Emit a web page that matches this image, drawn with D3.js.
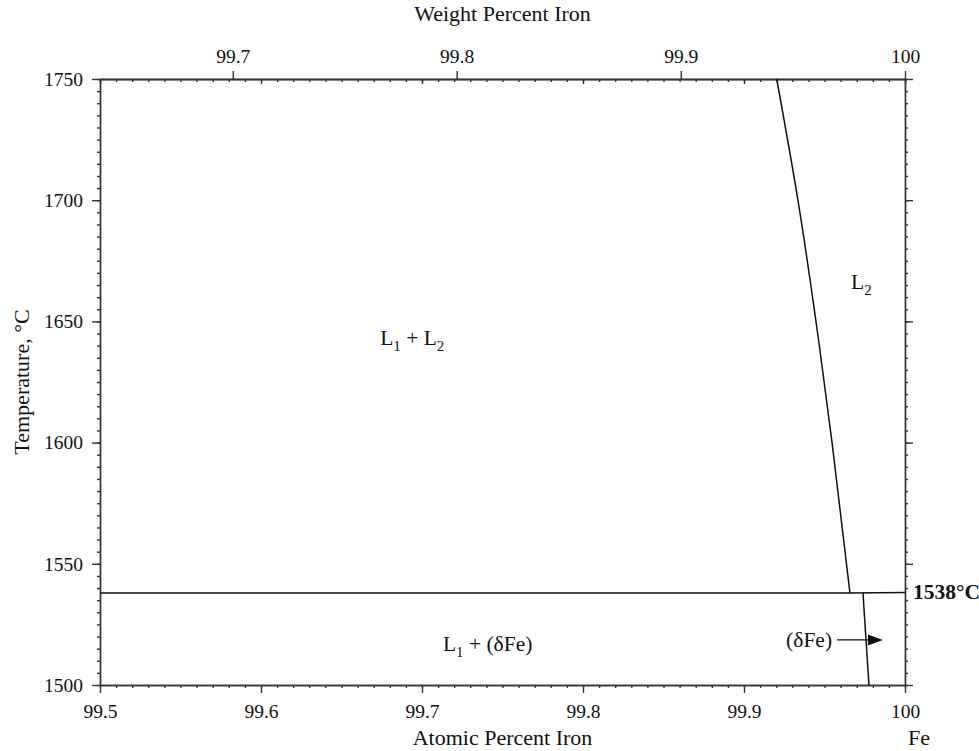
<!DOCTYPE html>
<html>
<head>
<meta charset="utf-8">
<script src="https://cdn.jsdelivr.net/npm/d3@7"></script>
<style>
  body { margin: 0; background: #fff; }
  svg { font-family: "Liberation Serif", "Times New Roman", serif; }
  .axis path, .axis line { stroke: #333; stroke-width: 1.4; }
  .axis text { font-size: 19.5px; fill: #111; font-family: "Liberation Serif", serif; }
  .phase { fill: none; stroke: #111; stroke-width: 1.5; }
  .label { font-size: 21.5px; fill: #111; }
  .title { font-size: 22px; fill: #111; }
</style>
</head>
<body>
<svg width="979" height="751"></svg>
<script>
// axis ticks
const tempTicks = [1500, 1550, 1600, 1650, 1700, 1750];
const atomicTicks = [99.5, 99.6, 99.7, 99.8, 99.9, 100];
const weightTicks = [99.7, 99.8, 99.9, 100];

// phase boundaries, [atomic % Fe, temperature °C]
const l2Boundary = [[99.9203, 1750], [99.9335, 1700], [99.9447, 1650], [99.9547, 1600], [99.9658, 1538]];
const monotectic = [[99.5, 1538], [99.9658, 1538]];
const feLiquidus = [[99.9658, 1538], [100, 1538.2]];
const deltaSolvus = [[99.9739, 1538], [99.9776, 1500]];

// region labels
const regionLabels = [
  {base: 'L', sub: '1', rest: ' + ', base2: 'L', sub2: '2', x: 99.674, t: 1640.3},
  {base: 'L', sub: '2', rest: '', base2: '', sub2: '', x: 99.9665, t: 1663.4},
  {base: 'L', sub: '1', rest: ' + (δFe)', base2: '', sub2: '', x: 99.713, t: 1514}
];
const arrowLabel = {text: '(δFe)', x: 99.9547, t: 1518.6, from: 99.9578, to: 99.9863};

// molar masses for the wt% <-> at% conversion (Ca–Fe)
const mFe = 55.845, mCa = 40.078;
const wtToAt = w => 100 * (w / mFe) / (w / mFe + (100 - w) / mCa);

const svg = d3.select('svg');
const x = d3.scaleLinear().domain([99.5, 100]).range([100, 905]);
const y = d3.scaleLinear().domain([1500, 1750]).range([685, 79]);

const minorX = d3.range(0, 51).map(i => 99.5 + i * 0.01);
const minorY = d3.range(0, 51).map(i => 1500 + i * 5);
const fmt = d => d === 100 ? '100' : d3.format('.1f')(d);

// bottom axis
svg.append('g').attr('class', 'axis')
  .attr('transform', `translate(0,${y(1500)})`)
  .call(d3.axisBottom(x).tickValues(minorX).tickSize(3).tickSizeOuter(0).tickFormat(''));
svg.append('g').attr('class', 'axis')
  .attr('transform', `translate(0,${y(1500)})`)
  .call(d3.axisBottom(x).tickValues(atomicTicks).tickSize(8).tickSizeOuter(0).tickPadding(11).tickFormat(fmt));

// top axis: atomic ticks inward, weight ticks outward
svg.append('g').attr('class', 'axis')
  .attr('transform', `translate(0,${y(1750)})`)
  .call(d3.axisBottom(x).tickValues(minorX).tickSize(3).tickSizeOuter(0).tickFormat(''));
svg.append('g').attr('class', 'axis')
  .attr('transform', `translate(0,${y(1750)})`)
  .call(d3.axisBottom(x).tickValues(atomicTicks).tickSize(5).tickSizeOuter(0).tickFormat(''));
svg.append('g').attr('class', 'axis')
  .attr('transform', `translate(0,${y(1750)})`)
  .call(d3.axisTop(x).tickValues(weightTicks.map(wtToAt)).tickSize(8).tickSizeOuter(0).tickPadding(8)
    .tickFormat((d, i) => fmt(weightTicks[i])));

// left axis
svg.append('g').attr('class', 'axis')
  .attr('transform', `translate(${x(99.5)},0)`)
  .call(d3.axisLeft(y).tickValues(minorY).tickSize(3).tickSizeOuter(0).tickFormat(''));
svg.append('g').attr('class', 'axis')
  .attr('transform', `translate(${x(99.5)},0)`)
  .call(d3.axisLeft(y).tickValues(tempTicks).tickSize(8).tickSizeOuter(0).tickPadding(9).tickFormat(d3.format('d')));

// right axis
svg.append('g').attr('class', 'axis')
  .attr('transform', `translate(${x(100)},0)`)
  .call(d3.axisRight(y).tickValues(minorY).tickSize(3).tickSizeOuter(0).tickFormat(''));
svg.append('g').attr('class', 'axis')
  .attr('transform', `translate(${x(100)},0)`)
  .call(d3.axisRight(y).tickValues(tempTicks).tickSize(8).tickSizeOuter(0).tickFormat(''));

svg.selectAll('.axis .domain').attr('stroke-width', 1.6);

// phase boundaries
const line = d3.line().x(d => x(d[0])).y(d => y(d[1]));
svg.append('path').attr('class', 'phase').attr('d', line.curve(d3.curveNatural)(l2Boundary));
line.curve(d3.curveLinear);
[monotectic, feLiquidus, deltaSolvus].forEach(seg => {
  svg.append('path').attr('class', 'phase').attr('d', line(seg));
});

// region labels with subscripts
regionLabels.forEach(l => {
  const t = svg.append('text').attr('class', 'label').attr('x', x(l.x)).attr('y', y(l.t));
  t.append('tspan').text(l.base);
  t.append('tspan').attr('dy', 6).attr('font-size', 15).text(l.sub);
  t.append('tspan').attr('dy', -6).text(l.rest);
  if (l.base2) {
    t.append('tspan').text(l.base2);
    t.append('tspan').attr('dy', 6).attr('font-size', 15).text(l.sub2);
  }
});

// (δFe) arrow
svg.append('text').attr('class', 'label')
  .attr('x', x(arrowLabel.x)).attr('y', y(arrowLabel.t) + 7)
  .attr('text-anchor', 'end').text(arrowLabel.text);
const ay = y(arrowLabel.t);
svg.append('line')
  .attr('x1', x(arrowLabel.from)).attr('x2', x(arrowLabel.to) - 12)
  .attr('y1', ay).attr('y2', ay)
  .attr('stroke', '#111').attr('stroke-width', 1.3);
svg.append('path')
  .attr('d', `M${x(arrowLabel.to)},${ay} L${x(arrowLabel.to) - 15},${ay - 5.5} L${x(arrowLabel.to) - 15},${ay + 5.5} Z`)
  .attr('fill', '#111');

// 1538 °C marker
svg.append('text').attr('class', 'label')
  .attr('x', x(100) + 8).attr('y', y(1538) + 6.5)
  .attr('font-size', 18.5).attr('font-weight', 'bold').text('1538°C');

// axis titles
svg.append('text').attr('class', 'title')
  .attr('x', (x(99.5) + x(100)) / 2).attr('y', 21)
  .attr('text-anchor', 'middle').text('Weight Percent Iron');
svg.append('text').attr('class', 'title')
  .attr('x', (x(99.5) + x(100)) / 2).attr('y', 745)
  .attr('text-anchor', 'middle').text('Atomic Percent Iron');
svg.append('text').attr('class', 'title')
  .attr('x', 919).attr('y', 745)
  .attr('font-size', 21).attr('text-anchor', 'middle').text('Fe');
svg.append('text').attr('class', 'title')
  .attr('transform', `translate(29,${(y(1500) + y(1750)) / 2}) rotate(-90)`)
  .attr('text-anchor', 'middle').text('Temperature, °C');
</script>
</body>
</html>
